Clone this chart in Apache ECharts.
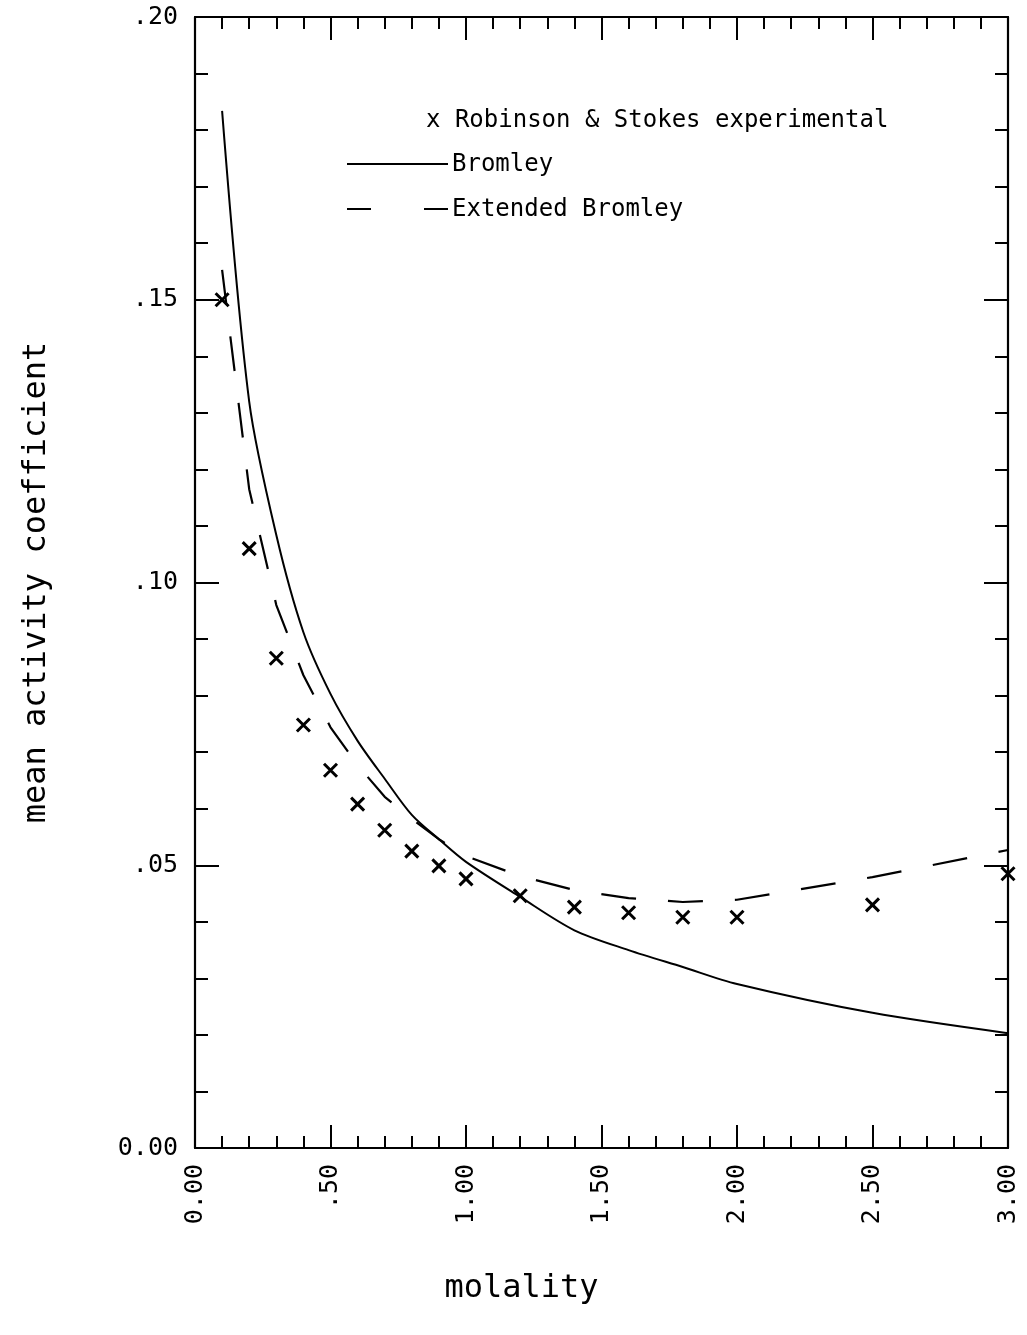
<!DOCTYPE html>
<html>
<head>
<meta charset="utf-8">
<script src="https://cdn.jsdelivr.net/npm/echarts@6/dist/echarts.min.js"></script>
<style>
html,body{margin:0;padding:0;background:#fff;}
#chart{width:1027px;height:1335px;}
</style>
</head>
<body>
<div id="chart"></div>
<script>
// molality values (mol/kg)
var molality = [0.1, 0.2, 0.3, 0.4, 0.5, 0.6, 0.7, 0.8, 0.9, 1.0, 1.2, 1.4, 1.6, 1.8, 2.0, 2.5, 3.0];
// Robinson & Stokes experimental mean activity coefficients
var experimental = [0.150, 0.106, 0.0866, 0.0748, 0.0668, 0.0608, 0.0562, 0.0525, 0.0499, 0.0476, 0.0446, 0.0426, 0.0416, 0.0408, 0.0408, 0.0430, 0.0485];
// Bromley model
var bromley = [0.1834, 0.132, 0.1084, 0.0912, 0.0803, 0.0720, 0.0653, 0.0589, 0.0546, 0.0506, 0.0444, 0.0385, 0.0350, 0.0320, 0.0290, 0.0239, 0.0203];
// Extended Bromley model
var extendedBromley = [0.1553, 0.1165, 0.0960, 0.0836, 0.0744, 0.0677, 0.0621, 0.0582, 0.0546, 0.0516, 0.0481, 0.0456, 0.0442, 0.0435, 0.0439, 0.0479, 0.0527];
// tick labels
var xTickLabels = {"0": "0.00", "0.5": ".50", "1": "1.00", "1.5": "1.50", "2": "2.00", "2.5": "2.50", "3": "3.00"};
var yTickLabels = {"0": "0.00", "0.05": ".05", "0.1": ".10", "0.15": ".15", "0.2": ".20"};
var seriesNames = ["Robinson & Stokes experimental", "Bromley", "Extended Bromley"];

function pairs(xs, ys) { return xs.map(function (x, i) { return [x, ys[i]]; }); }

var FONT = "DejaVu Sans Mono";
var lineCol = "#000";

function xAxisCfg(pos, showLabels) {
  return {
    type: 'value', position: pos, min: 0, max: 3, interval: 0.5,
    axisLine: { show: true, onZero: false, lineStyle: { color: lineCol, width: 2.2 } },
    axisTick: { show: true, inside: true, length: 23, lineStyle: { color: lineCol, width: 2 } },
    minorTick: { show: true, splitNumber: 5, length: 12, lineStyle: { color: lineCol, width: 2 } },
    splitLine: { show: false },
    axisLabel: {
      show: showLabels, rotate: 90, margin: 16, color: '#000', fontFamily: FONT, fontSize: 25,
      formatter: function (v) { var k = String(Math.round(v * 10) / 10); return xTickLabels[k] !== undefined ? xTickLabels[k] : ''; }
    },
    name: showLabels ? 'molality' : '',
    nameLocation: 'middle', nameGap: 125,
    nameTextStyle: { color: '#000', fontFamily: FONT, fontSize: 32, padding: [0, 160, 0, 0] }
  };
}
function yAxisCfg(pos, showLabels) {
  return {
    type: 'value', position: pos, min: 0, max: 0.2, interval: 0.05,
    axisLine: { show: true, onZero: false, lineStyle: { color: lineCol, width: 2.2 } },
    axisTick: { show: true, inside: true, length: 24, lineStyle: { color: lineCol, width: 2 } },
    minorTick: { show: true, splitNumber: 5, length: 13, lineStyle: { color: lineCol, width: 2 } },
    splitLine: { show: false },
    axisLabel: {
      show: showLabels, margin: 17, color: '#000', fontFamily: FONT, fontSize: 25,
      formatter: function (v) { var k = String(Math.round(v * 100) / 100); return yTickLabels[k] !== undefined ? yTickLabels[k] : ''; }
    },
    name: showLabels ? 'mean activity coefficient' : '',
    nameLocation: 'middle', nameGap: 142,
    nameTextStyle: { color: '#000', fontFamily: FONT, fontSize: 32 }
  };
}

var chart = echarts.init(document.getElementById('chart'), null, { renderer: 'canvas' });
chart.setOption({
  animation: false,
  backgroundColor: '#fff',
  grid: { left: 195, right: 19, top: 17, bottom: 187, containLabel: false },
  xAxis: [xAxisCfg('bottom', true), xAxisCfg('top', false)],
  yAxis: [yAxisCfg('left', true), yAxisCfg('right', false)],
  series: [
    {
      name: seriesNames[0], type: 'scatter', xAxisIndex: 0, yAxisIndex: 0,
      data: pairs(molality, experimental),
      symbol: 'path://M0,0L10,10M10,0L0,10', symbolSize: 13,
      itemStyle: { color: 'transparent', borderColor: '#000', borderWidth: 3, opacity: 1 }, z: 5
    },
    {
      name: seriesNames[1], type: 'line', xAxisIndex: 0, yAxisIndex: 0,
      data: pairs(molality, bromley), showSymbol: false, symbol: 'none',
      smooth: 0.3,
      lineStyle: { color: '#000', width: 2 }
    },
    {
      name: seriesNames[2], type: 'line', xAxisIndex: 0, yAxisIndex: 0,
      data: pairs(molality, extendedBromley), showSymbol: false, symbol: 'none',
      lineStyle: { color: '#000', width: 2.2, type: [35, 32] }
    }
  ],
  graphic: [
    { type: 'text', left: 426, top: 109, style: { text: 'x ' + seriesNames[0], fill: '#000', font: '24px "DejaVu Sans Mono"' } },
    { type: 'line', shape: { x1: 347, y1: 164, x2: 448, y2: 164 }, style: { stroke: '#000', lineWidth: 2 } },
    { type: 'text', left: 452, top: 153, style: { text: seriesNames[1], fill: '#000', font: '24px "DejaVu Sans Mono"' } },
    { type: 'line', shape: { x1: 347, y1: 209, x2: 448, y2: 209 }, style: { stroke: '#000', lineWidth: 2, lineDash: [24, 53] } },
    { type: 'text', left: 452, top: 198, style: { text: seriesNames[2], fill: '#000', font: '24px "DejaVu Sans Mono"' } }
  ]
});
</script>
</body>
</html>
